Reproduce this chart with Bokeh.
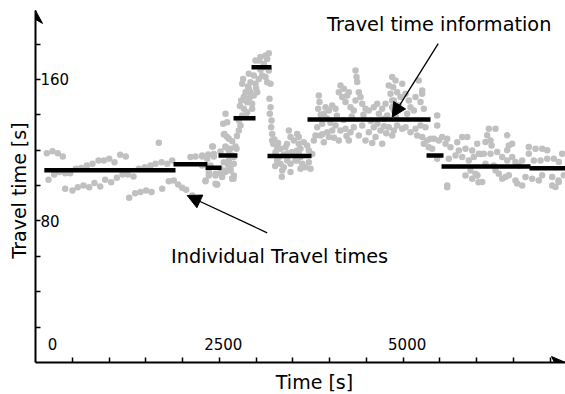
from bokeh.plotting import figure
from bokeh.models import Range1d, FixedTicker, Label, Arrow, NormalHead, LinearAxis
from bokeh.core.properties import value
from bokeh.embed import file_html
from bokeh.resources import INLINE

# ---------------- data ----------------
# individual travel times: time [s], travel time [s]
t_free = [154, 231, 303, 371, 177, 254, 322, 404, 472, 548, 621, 698, 775, 857, 929, 1002, 1074,
          1152, 1228, 404, 503, 575, 653, 730, 802, 880, 948, 1029, 1106, 1183, 1256, 1333, 1274, 1355]
v_free = [118.3, 119.4, 118.3, 116.4, 103.3, 106.3, 107.6, 107, 107, 109.5, 109.9, 111.4, 112.3, 114.2,
          114.2, 115.2, 113.2, 117.4, 116.4, 98.2, 97.2, 99.1, 100.1, 99.1, 101.4, 99.5, 103.3, 101.9,
          104.4, 106.3, 106.3, 105.1, 93.1, 95.7]

t_onset = [1677, 1405, 1486, 1564, 1632, 1714, 1791, 1859, 1428, 1505, 1578, 1723, 1813, 1881, 1940,
           1995, 2049, 2131, 2108, 2176, 2267, 2349, 2425, 2412, 2516, 2561, 2607, 2584, 2652, 2312,
           2357, 2448, 2471, 2516, 2584, 2652, 2675, 2629, 2697, 2448, 2693]
v_onset = [124.2, 109.5, 110.4, 111.4, 112.3, 113.2, 112.3, 114.2, 96.3, 97.2, 96.3, 98.2, 102.5, 102.9,
           100.6, 98.8, 97.6, 94.4, 116.1, 116.4, 116.4, 117.6, 116.4, 122.1, 119.2, 128.9, 127.4, 122.1,
           120.8, 102.5, 105.7, 106.7, 100.6, 107, 108.5, 109.5, 103.8, 114.2, 116.1, 101, 103.8]

t_peak = [2267, 2335, 2403, 2425, 2357, 2312, 2448, 2462, 2516, 2561, 2584, 2629, 2675, 2697, 2652, 2697,
          2584, 2675, 2539, 2616, 2734, 2267, 2380, 2584, 2552, 2607, 2570, 2629, 2675, 2720, 2765, 2788,
          2765, 2811, 2833, 2797, 2833, 2879, 2856, 2901, 2811, 2824, 2924, 2969, 2947, 3015, 2992, 2901,
          2969, 3037, 3083, 3037, 3060, 3128, 3173, 3151, 3105, 3173, 3196, 3128, 2992, 3151, 2924, 2879,
          2947, 3182, 3196, 3187, 3210, 3205, 3219, 3219, 3232, 3287, 3264, 3332, 3400, 3445, 3468, 3513,
          3559, 3581, 3287, 3332, 3377, 3423, 3468, 3536, 3355, 3309, 3468, 3559, 3604, 3432, 3604,
          2740, 2860, 2910, 3000, 3060, 3110, 2780, 2890, 3250, 3300, 3380, 3490, 3260, 3350, 3420]
v_peak = [117.0, 115.1, 122.1, 117.9, 107.6, 102.9, 105.7, 100.6, 109.5, 113.2, 121.7, 119.8, 117.0, 112.3,
          108.5, 105.7, 107.6, 103.8, 104.8, 111.9, 120.8, 111.3, 111.3, 140.6, 134.9, 135.8, 129.2, 126.4,
          125.1, 122.1, 131.1, 134.0, 136.8, 139.6, 143.4, 148.1, 150.0, 147.1, 152.8, 154.7, 157.5, 160.3,
          158.4, 150.9, 146.2, 152.8, 157.5, 163.2, 162.2, 160.3, 162.2, 170.7, 172.6, 173.5, 174.8, 171.6,
          168.8, 165.0, 157.5, 161.3, 170.7, 158.4, 152.8, 141.5, 143.4, 149.0, 144.3, 140.6, 136.8, 133.0,
          129.2, 125.5, 123.6, 121.7, 118.9, 120.8, 121.7, 131.1, 127.4, 125.5, 129.2, 123.6, 114.2, 112.3,
          110.4, 114.2, 112.3, 114.2, 108.5, 116.1, 107.6, 119.8, 116.1, 118.3, 109.5,
          128.0, 139.0, 149.5, 155.0, 165.5, 167.0, 145.0, 156.0, 126.0, 124.0, 117.5, 119.0, 111.0, 105.0, 123.5]

t_cong = [3581, 3649, 3604, 3695, 3559, 3627, 3717, 3672, 3740, 3763, 3785, 3808, 3717, 3581, 3853, 3862,
          3844, 3944, 3921, 3989, 4035, 4080, 4148, 4125, 4171, 4193, 4239, 4261, 4216, 4284, 4352, 4366,
          4375, 4397, 4420, 4352, 4329, 4443, 4488, 4533, 4601, 4647, 4669, 4715, 4760, 4805, 4828, 4851,
          4783, 4873, 4737, 3831, 3899, 3967, 3989, 3921, 3876, 4080, 4148, 4216, 4284, 4261, 4329, 4397,
          4443, 4488, 4533, 4601, 4624, 4692, 4715, 4805, 4851, 4035, 4125,
          3880, 3960, 4010, 4100, 4190, 4300, 4460, 4560, 4650, 4740, 4900, 3900, 4060, 4230, 4580, 4770]
v_cong = [127.4, 124.5, 120.8, 122.7, 114.2, 112.3, 113.2, 110.4, 109.5, 117.9, 125.5, 128.3, 119.8, 117.9,
          150.9, 147.2, 143.4, 144.3, 140.6, 142.4, 145.3, 143.4, 156.6, 152.8, 150.0, 154.7, 150.9, 152.8,
          147.2, 144.3, 165.0, 161.3, 158.5, 152.8, 150.0, 148.1, 142.4, 146.2, 143.4, 142.4, 144.3, 146.2,
          140.6, 143.4, 146.2, 156.6, 151.9, 148.1, 139.6, 142.4, 137.7, 133.0, 134.9, 130.2, 127.4, 124.5,
          128.3, 134.0, 131.1, 132.1, 130.2, 125.5, 133.0, 128.3, 134.0, 125.5, 130.2, 133.0, 127.4, 131.1,
          123.6, 133.0, 128.3, 131.1, 125.5,
          140.0, 138.0, 135.5, 139.5, 137.0, 139.0, 140.0, 136.5, 135.0, 133.5, 139.0, 129.0, 127.0, 128.0,
          124.0, 129.5]

t_late = [4851, 4896, 4864, 4919, 4987, 4964, 4873, 4851, 4941, 5032, 5077, 5100, 5168, 5213, 5259, 5236,
          5281, 5259, 5145, 5055, 5032, 4919, 5100, 5168, 5236, 5304, 4873, 4987, 5191, 5463, 5463, 5259,
          5327, 5372, 5281, 5349, 5417, 5485, 5531, 5599, 5576, 5644, 5735, 5803, 5871, 5848, 5939, 6007,
          5961, 6052, 5712, 5757, 5803, 5893, 5916, 5939, 6007, 5621, 5463, 5395, 5599]
v_late = [161.3, 159.4, 155.6, 152.8, 157.5, 150.0, 148.1, 144.3, 145.3, 151.9, 148.1, 144.3, 150.0, 159.4,
          151.9, 147.2, 143.4, 153.7, 142.4, 140.6, 133.0, 134.0, 130.2, 132.1, 134.0, 133.0, 131.1, 132.1,
          128.3, 139.6, 134.0, 127.4, 125.5, 126.4, 123.6, 121.7, 126.4, 125.5, 127.4, 126.4, 123.6, 121.7,
          124.5, 127.4, 127.4, 120.8, 119.8, 123.6, 116.1, 117.9, 117.0, 119.8, 116.1, 114.2, 108.5, 103.8,
          105.7, 115.1, 115.1, 120.8, 99.1]

t_recov = [6165, 6256, 6143, 6120, 6188, 6202, 6415, 6437, 6483, 6415, 6029, 6097, 6188, 6279, 6347, 6415,
           6483, 6528, 6709, 6800, 6891, 6959, 6709, 6777, 6868, 6959, 7049, 7117, 7163, 6573, 6619, 6007,
           6075, 6301, 6347, 6437, 6528, 6551, 6664, 6755, 6845, 6891, 7027, 7117, 7072, 7185, 6619, 6233,
           6120, 5599, 6025, 5848, 5984, 6256, 6392, 7027, 7113]
v_recov = [132.1, 132.1, 128.4, 124.6, 125.5, 122.7, 128.4, 122.7, 123.7, 119.9, 118.0, 118.0, 118.0, 119.0,
           116.1, 114.2, 116.1, 113.3, 121.8, 120.8, 120.8, 119.9, 118.0, 114.2, 114.2, 115.2, 115.2, 113.3,
           118.0, 111.4, 114.2, 105.8, 102.0, 106.7, 103.9, 105.8, 102.9, 101.1, 104.8, 103.9, 102.9, 105.8,
           104.8, 102.0, 99.2, 105.8, 100.1, 111.4, 112.4, 100.0, 101.9, 105.7, 106.7, 108.5, 104.8, 100.1,
           102.9]

# travel time information: interval start, interval end, value
info_start = [120, 1877, 2312, 2489, 2693, 2938, 3155, 3699, 5318, 5522, 6718]
info_end = [1904, 2339, 2530, 2747, 2992, 3210, 3754, 5372, 5549, 6732, 7208]
info_value = [108.7, 112.1, 110.1, 117.0, 138.1, 166.9, 116.7, 137.4, 117.0, 110.8, 109.8]

x_tick_values = [0, 2500, 5000]
x_tick_labels = ["0", "2500", "5000"]
y_tick_values = [80, 160]
y_tick_labels = ["80", "160"]

x_title = "Time [s]"
y_title = "Travel time [s]"
note_info = "Travel time information"
note_indiv = "Individual Travel times"
# annotation anchors (text position, arrow start, arrow end) in data units
note_info_xy = (5490, 191)
note_info_arrow = (5477, 180.2, 4851, 138.7)
note_indiv_xy = (3320, 60)
note_indiv_arrow = (3151, 73.3, 2063, 94.4)
x_title_xy = (3794, -11.3)
y_title_xy = (-231, 97.2)

X_AXIS_END = 7208
Y_AXIS_END = 199

FONT = "DejaVu Sans"
W, H = 565, 394
# scale: 13.6 s per pixel horizontally, 1.769 pixel per second vertically
X0, X1 = -476, 7208
Y0, Y1 = -18.09, 204.6

p = figure(width=W, height=H, output_backend="svg", toolbar_location=None,
           x_range=Range1d(X0, X1), y_range=Range1d(Y0, Y1),
           x_axis_location=None, y_axis_location=None,
           min_border=0)
p.outline_line_color = None
p.background_fill_color = "white"
p.border_fill_color = "white"
p.xgrid.visible = False
p.ygrid.visible = False

xticks = list(range(500, 7001, 500))
yticks = list(range(20, 181, 20))
xax = LinearAxis(fixed_location=0, bounds=(0, X_AXIS_END), ticker=FixedTicker(ticks=xticks),
                 major_label_overrides={t: "" for t in xticks})
yax = LinearAxis(fixed_location=0, bounds=(0, Y_AXIS_END), ticker=FixedTicker(ticks=yticks),
                 major_label_overrides={t: "" for t in yticks})
for ax in (xax, yax):
    ax.axis_line_width = 2
    ax.axis_line_color = "black"
    ax.major_tick_in = 5
    ax.major_tick_out = 0
    ax.major_tick_line_width = 1.5
    ax.minor_tick_line_color = None
    ax.major_label_standoff = 0
p.add_layout(xax, "below")
p.add_layout(yax, "left")

# individual travel times
for ts, vs in ((t_free, v_free), (t_onset, v_onset), (t_peak, v_peak),
               (t_cong, v_cong), (t_late, v_late), (t_recov, v_recov)):
    p.scatter(ts, vs, size=6.5, marker="circle", fill_color="#c0c0c0", line_color=None)

# travel time information
p.segment(x0=info_start, y0=info_value, x1=info_end, y1=info_value,
          line_color="black", line_width=4.5, line_cap="butt")

# tick labels (inside the axes)
p.text(x=x_tick_values[1:], y=[0] * 2, text=x_tick_labels[1:], text_font=value(FONT),
       text_font_size="15px", text_align="center", text_baseline="alphabetic",
       x_offset=4, y_offset=-18, text_color="black")
p.text(x=x_tick_values[:1], y=[0], text=x_tick_labels[:1], text_font=value(FONT),
       text_font_size="15px", text_align="center", text_baseline="alphabetic",
       x_offset=17, y_offset=-18, text_color="black")
p.text(x=[0] * 2, y=y_tick_values, text=y_tick_labels, text_font=value(FONT),
       text_font_size="15px", text_align="left", text_baseline="middle",
       x_offset=5, text_color="black")

# axis arrow barbs (drawn relative to the axis ends)
px_x = (X1 - X0) / W
px_y = (Y1 - Y0) / H
p.patch([0, 0, 7 * px_x], [Y_AXIS_END, Y_AXIS_END - 9 * px_y, Y_AXIS_END - 13 * px_y], color="black")
p.patch([X_AXIS_END, X_AXIS_END - 14 * px_x, X_AXIS_END - 11 * px_x], [0, 6 * px_y, 0], color="black")

# axis titles
p.add_layout(Label(x=x_title_xy[0], y=x_title_xy[1], text=x_title, text_font=FONT, text_font_size="19px",
                   text_align="center", text_baseline="alphabetic", text_color="black"))
p.add_layout(Label(x=y_title_xy[0], y=y_title_xy[1], text=y_title, text_font=FONT, text_font_size="19px",
                   text_align="center", text_baseline="middle", angle=1.5708, text_color="black"))

# annotations
p.add_layout(Label(x=note_info_xy[0], y=note_info_xy[1], text=note_info, text_font=FONT,
                   text_font_size="19.3px", text_align="center", text_baseline="alphabetic",
                   text_color="black"))
p.add_layout(Label(x=note_indiv_xy[0], y=note_indiv_xy[1], text=note_indiv, text_font=FONT,
                   text_font_size="19.3px", text_align="center", text_baseline="alphabetic",
                   text_color="black"))
for xs, ys, xe, ye in (note_info_arrow, note_indiv_arrow):
    p.add_layout(Arrow(x_start=xs, y_start=ys, x_end=xe, y_end=ye, line_width=1.3,
                       line_color="black",
                       end=NormalHead(size=14, fill_color="black", line_color="black")))

open("out.html", "w").write(file_html(p, INLINE))
